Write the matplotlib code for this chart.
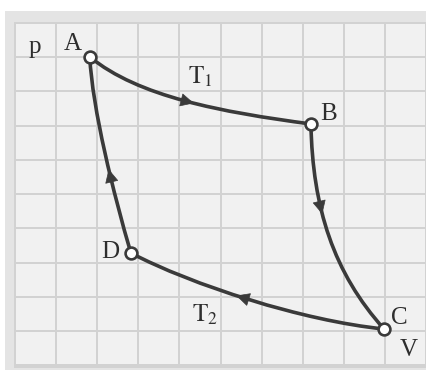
import matplotlib
matplotlib.use("Agg")
import numpy as np
import matplotlib.pyplot as plt
from matplotlib.patches import Rectangle, PathPatch
from matplotlib.path import Path

plt.rcParams['font.family'] = ['Liberation Serif', 'DejaVu Serif']
plt.rcParams['mathtext.fontset'] = 'stix'

# State points (grid units: V across, p up)
state_names = ['A', 'B', 'C', 'D']
state_v = [1.82, 7.20, 8.98, 2.82]
state_p = [9.01, 7.05, 1.06, 3.28]

# Each process as a cubic curve: start, two control points, end
ab_v = [1.82, 3.00, 5.00, 7.20]
ab_p = [9.01, 7.85, 7.40, 7.05]
bc_v = [7.20, 7.24, 7.75, 8.98]
bc_p = [7.05, 4.60, 2.70, 1.06]
cd_v = [8.98, 7.00, 4.30, 2.82]
cd_p = [1.06, 1.30, 2.35, 3.28]
da_v = [2.82, 2.40, 1.88, 1.82]
da_p = [3.28, 5.00, 7.50, 9.01]

# where the arrowhead sits along each process (curve parameter)
arrow_t = [0.54, 0.39, 0.55, 0.42]

line_col = '#3a3a3a'
grid_col = '#d2d2d2'
text_col = '#2e2e2e'

fig = plt.figure(figsize=(4.26, 3.70), dpi=100)
fig.patch.set_facecolor('white')
# light gray frame round the panel
fig.patches.append(Rectangle((5 / 426, 0), 1, (370 - 11) / 370,
                             transform=fig.transFigure, facecolor='#e4e4e4',
                             edgecolor='none', zorder=-5))

ax = fig.add_axes([15 / 426, 3 / 370, 411 / 426, 344 / 370])
ax.set_zorder(2)
ax.set_facecolor('#f1f1f1')
ax.set_xlim(0, 10)
ax.set_ylim(-0.05, 10.0)
ax.set_xticks(range(11))
ax.set_yticks(range(11))
ax.tick_params(length=0, labelbottom=False, labelleft=False)
ax.grid(True, color=grid_col, linewidth=1.4)
for s in ax.spines.values():
    s.set_color(grid_col)
    s.set_linewidth(1.4)


def bez(v, p, t):
    c = np.array([(1 - t) ** 3, 3 * t * (1 - t) ** 2, 3 * t ** 2 * (1 - t), t ** 3])
    return np.dot(c, v), np.dot(c, p)


curves = [(ab_v, ab_p), (bc_v, bc_p), (cd_v, cd_p), (da_v, da_p)]
codes = [Path.MOVETO, Path.CURVE4, Path.CURVE4, Path.CURVE4]
for (v, p), t in zip(curves, arrow_t):
    path = Path(np.column_stack([v, p]), codes)
    ax.add_patch(PathPatch(path, facecolor='none', edgecolor=line_col,
                           linewidth=2.6, capstyle='round', zorder=3))
    tip = bez(v, p, t)
    back = bez(v, p, t - 0.04)
    ax.annotate('', xy=tip, xytext=back,
                arrowprops=dict(arrowstyle='-|>', color=line_col, lw=0.5,
                                mutation_scale=22, shrinkA=0, shrinkB=0),
                zorder=4)

ax.plot(state_v, state_p, 'o', markersize=8.5, markerfacecolor='white',
        markeredgecolor=line_col, markeredgewidth=1.9, zorder=5)

fs = 18
ax.text(0.49, 9.3, 'p', fontsize=fs, ha='center', va='center', color=text_col)
ax.text(1.41, 9.4, 'A', fontsize=fs, ha='center', va='center', color=text_col)
ax.text(7.63, 7.33, 'B', fontsize=fs, ha='center', va='center', color=text_col)
ax.text(9.34, 1.37, 'C', fontsize=fs, ha='center', va='center', color=text_col)
ax.text(2.31, 3.32, 'D', fontsize=fs, ha='center', va='center', color=text_col)
ax.text(9.58, 0.44, 'V', fontsize=fs, ha='center', va='center', color=text_col)
ax.text(4.5, 8.42, r'$\mathrm{T}_1$', fontsize=fs, ha='center', va='center', color=text_col)
ax.text(4.62, 1.47, r'$\mathrm{T}_2$', fontsize=fs, ha='center', va='center', color=text_col)

fig.savefig('out.png', dpi=100)
